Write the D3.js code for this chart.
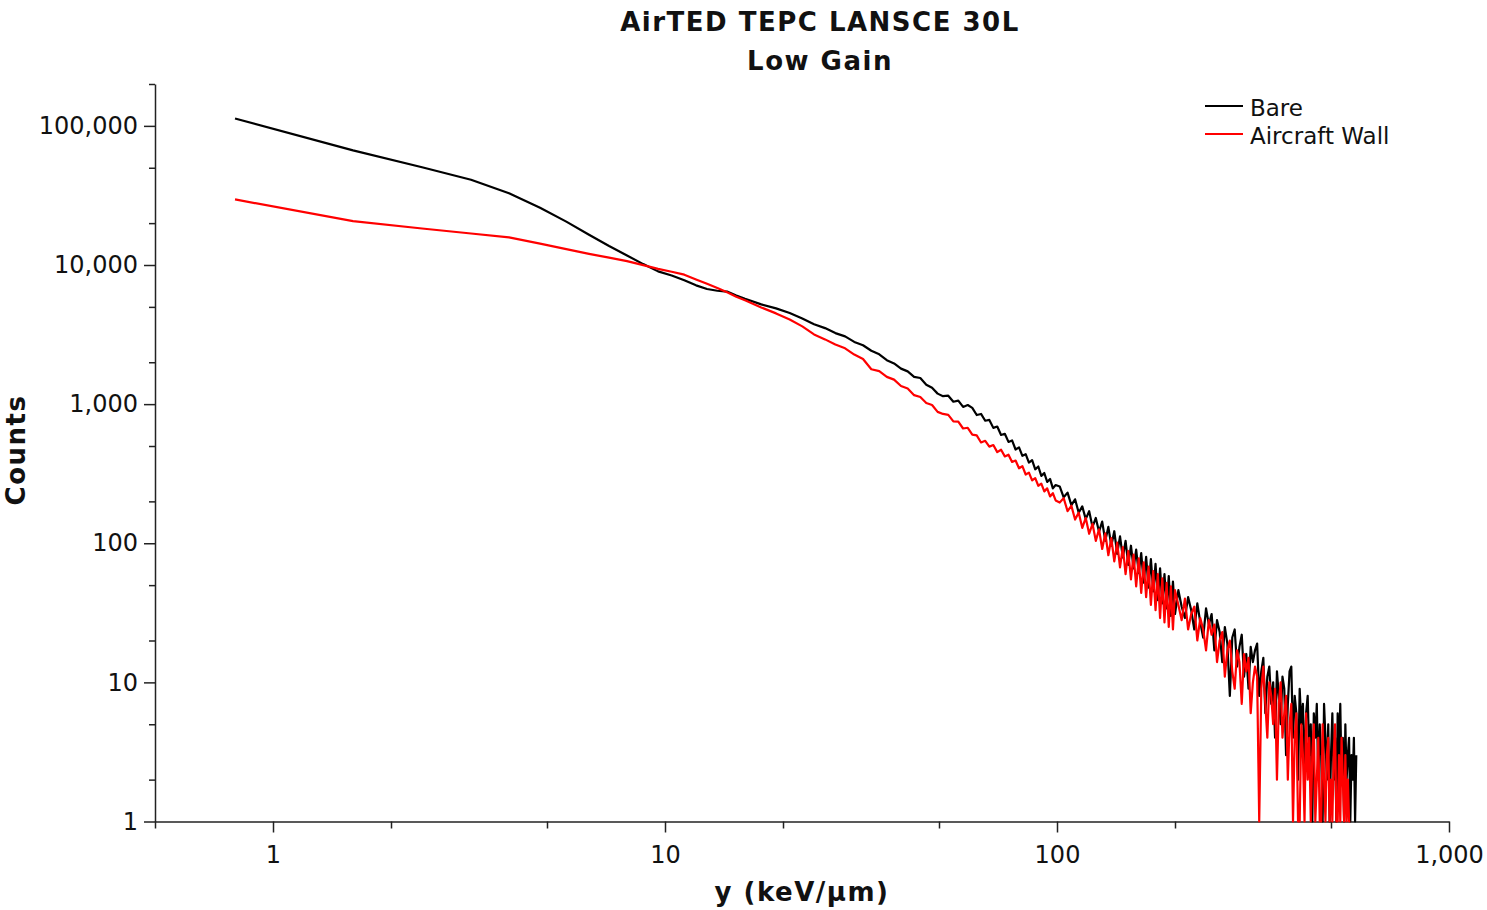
<!DOCTYPE html>
<html>
<head>
<meta charset="utf-8">
<script src="https://cdn.jsdelivr.net/npm/d3@7"></script>
<style>
  body { margin: 0; background: #fff; }
  text { font-family: "DejaVu Sans", sans-serif; }
</style>
</head>
<body>
<script>
// lineal energy bins (keV/um)
var xValues = [
  0.8, 1.6, 2.4, 3.2, 4.0, 4.8, 5.6, 6.4, 7.2, 8.0, 8.8, 9.6,
  10.4, 11.2, 12.0, 12.8, 13.6, 14.4, 15.2, 16.0, 17.6, 19.2, 20.8, 22.4, 24.0, 25.6, 27.2, 28.8, 30.4, 32.0,
  33.6, 35.2, 36.8, 38.4, 40.0, 41.6, 43.2, 44.8, 46.4, 48.0, 49.6,
  51.2, 52.8, 54.4, 56.0, 57.6, 59.2, 60.8, 62.4, 64.0, 65.6, 67.2, 68.8, 70.4, 72.0, 73.6, 75.2,
  76.8, 78.4, 80.0, 81.6, 83.2, 84.8, 86.4, 88.0, 89.6, 91.2, 92.8, 94.4, 96.0, 97.6, 99.2,
  101.6, 104, 106.4, 108.8, 111.2, 113.6, 116, 118.4, 120.8, 123.2, 125.6, 128, 130.4, 132.8,
  135.2, 137.6, 140, 142.4, 144.8, 147.2, 149.6, 152, 154.4, 156.8, 159.2, 161.6, 164, 166.4,
  168.8, 171.2, 173.6, 176, 178.4, 180.8, 183.2, 185.6, 188, 190.4, 192.8, 195.2, 197.6, 200,
  204, 208, 212, 216, 220, 224, 228, 232, 236, 240,
  244, 248, 252, 256, 260, 264, 268, 272, 276, 280,
  284, 288, 292, 296, 300, 304, 308, 312, 316, 320,
  324, 328, 332, 336, 340, 344, 348, 352, 356, 360,
  364, 368, 372, 376, 380, 384, 388, 392, 396, 400,
  404, 408, 412, 416, 420, 424, 428, 432, 436, 440,
  444, 448, 452, 456, 460, 464, 468, 472, 476, 480,
  484, 488, 492, 496, 500, 504, 508, 512, 516, 520,
  524, 528, 532, 536, 540, 544, 548, 552, 556, 560,
  564, 568, 572, 576, 580
];

var bareCounts = [
  113000, 66700, 50400, 41000, 32800, 25800, 20500, 16500, 13700, 11700, 10150, 9000,
  8400, 7760, 7140, 6720, 6530, 6440, 6040, 5720, 5210, 4880, 4520, 4130, 3750, 3520, 3240, 3070, 2800, 2650,
  2420, 2280, 2070, 1960, 1800, 1720, 1570, 1540, 1380, 1310, 1190,
  1140, 1150, 1040, 1060, 955, 985, 940, 835, 850, 760, 770, 675, 690, 600, 612, 535,
  548, 472, 489, 425, 437, 380, 396, 340, 356, 305, 320, 276, 290, 248, 262,
  256, 214, 231, 188, 207, 166, 184, 149, 170, 131, 152, 121, 143, 104,
  131, 96, 122, 84, 112, 79, 104, 70, 96, 66, 90, 61, 85, 52,
  80, 48, 77, 45, 71, 39, 66, 37, 60, 34, 58, 30, 53, 31,
  46, 35, 29, 41, 33, 24, 37, 27, 21, 34,
  26, 31, 17, 28, 23, 14, 25, 19, 8, 21,
  24, 13, 18, 22, 11, 16, 9, 18, 14, 17,
  19, 8, 12, 15, 6, 11, 13, 7, 10, 4,
  12, 8, 5, 11, 9, 3, 7, 12, 13, 4,
  8, 6, 2, 9, 5, 7, 2, 6, 8, 3,
  5, 1, 6, 4, 7, 2, 5, 3, 1, 7,
  4, 2, 5, 1, 3, 6, 2, 4, 1, 6,
  3, 7, 2, 4, 1, 5, 2, 3, 4, 1,
  3, 2, 4, 1, 3
];

var wallCounts = [
  29600, 20650, 18300, 16850, 15780, 14250, 13000, 12020, 11300, 10660, 9970, 9380,
  8950, 8520, 7880, 7320, 6840, 6360, 5920, 5580, 4950, 4490, 4060, 3620, 3170, 2920, 2680, 2520, 2270, 2110,
  1780, 1725, 1570, 1500, 1350, 1295, 1160, 1125, 1020, 985, 880,
  850, 838, 752, 748, 668, 676, 604, 596, 530, 545, 495, 508, 452, 470, 421, 433,
  384, 393, 346, 358, 312, 322, 283, 294, 259, 268, 236, 248, 217, 229, 203,
  196, 211, 170, 186, 148, 166, 129, 152, 117, 138, 104, 126, 91, 118,
  82, 109, 74, 101, 67, 94, 60, 88, 55, 83, 49, 78, 44, 73,
  41, 68, 36, 63, 33, 60, 29, 56, 27, 52, 25, 49, 24, 46,
  36, 28, 40, 24, 31, 35, 20, 29, 24, 17,
  28, 22, 26, 14, 20, 23, 11, 17, 20, 12,
  9, 17, 14, 7, 16, 12, 15, 6, 10, 13,
  11, 0, 9, 13, 7, 4, 10, 8, 5, 9,
  2, 7, 10, 4, 6, 8, 2, 5, 7, 0,
  4, 6, 1, 0, 5, 3, 0, 6, 2, 4,
  0, 3, 5, 0, 2, 4, 0, 1, 5, 2,
  0, 3, 4, 0, 2, 0, 3, 5, 0, 1,
  3, 0, 4, 2, 0, 3, 0, 2, 1, 0,
  null, null, null, null, null
];

var seriesNames = ["Bare", "Aircraft Wall"];
var seriesColors = ["#000000", "#ff0000"];

var xMajor = [1, 10, 100, 1000];
var xMinor = [0.5, 2, 5, 20, 50, 200, 500];
var yMajor = [1, 10, 100, 1000, 10000, 100000];
var yMinor = [2, 5, 20, 50, 200, 500, 2000, 5000, 20000, 50000, 200000];

var width = 1487, height = 910;
var plot = {left: 155, right: 1449, top: 84, bottom: 821.5};

var svg = d3.select("body").append("svg")
    .attr("width", width)
    .attr("height", height);

var x = d3.scaleLog().domain([0.5, 1000]).range([plot.left, plot.right]);
var y = d3.scaleLog().domain([1, 200000]).range([plot.bottom, plot.top]).clamp(true);

// axes: major ticks with labels, then minor ticks without
var fmt = d3.format(",");

var xAxisG = svg.append("g").attr("transform", "translate(0," + plot.bottom + ")");
xAxisG.call(d3.axisBottom(x).tickValues(xMajor).tickSize(11).tickSizeOuter(0).tickPadding(13).tickFormat(fmt));
xAxisG.append("g").call(d3.axisBottom(x).tickValues(xMinor).tickSize(7).tickFormat(""))
    .select(".domain").remove();

var yAxisG = svg.append("g").attr("transform", "translate(" + plot.left + ",0)");
yAxisG.call(d3.axisLeft(y).tickValues(yMajor).tickSize(11).tickSizeOuter(0).tickPadding(6).tickFormat(fmt));
yAxisG.append("g").call(d3.axisLeft(y).tickValues(yMinor).tickSize(6).tickFormat(""))
    .select(".domain").remove();

svg.selectAll(".domain, .tick line").attr("stroke", "#222").attr("stroke-width", 1.5);
svg.selectAll(".tick text").attr("font-size", 24).attr("fill", "#111")
    .style("font-family", "'DejaVu Sans', sans-serif");

// data lines
var line = d3.line()
    .defined(function(d) { return d.v !== null; })
    .x(function(d) { return x(d.x); })
    .y(function(d) { return y(Math.max(d.v, 1)); });

[bareCounts, wallCounts].forEach(function(counts, i) {
  var pts = xValues.map(function(xv, j) { return {x: xv, v: counts[j]}; });
  svg.append("path")
      .datum(pts)
      .attr("fill", "none")
      .attr("stroke", seriesColors[i])
      .attr("stroke-width", 2.2)
      .attr("stroke-linejoin", "round")
      .attr("d", line);
});

// titles
var boldText = function(sel) {
  return sel.attr("font-size", 26).attr("font-weight", "bold").attr("letter-spacing", 1.5)
      .attr("text-anchor", "middle").attr("fill", "#111");
};
svg.append("text").attr("x", 820).attr("y", 31).call(boldText).text("AirTED TEPC LANSCE 30L");
svg.append("text").attr("x", 820).attr("y", 70).call(boldText).text("Low Gain");
svg.append("text").attr("x", 802).attr("y", 901).call(boldText).text("y (keV/\u00b5m)");
svg.append("text").attr("transform", "translate(25,450) rotate(-90)").call(boldText).text("Counts");

// legend
var legend = svg.append("g");
seriesNames.forEach(function(name, i) {
  var ly = 106 + i * 28;
  legend.append("line").attr("x1", 1205).attr("x2", 1243).attr("y1", ly).attr("y2", ly)
      .attr("stroke", seriesColors[i]).attr("stroke-width", 2);
  legend.append("text").attr("x", 1250).attr("y", ly + 10)
      .attr("font-size", 23).attr("fill", "#111").text(name);
});
</script>
</body>
</html>
